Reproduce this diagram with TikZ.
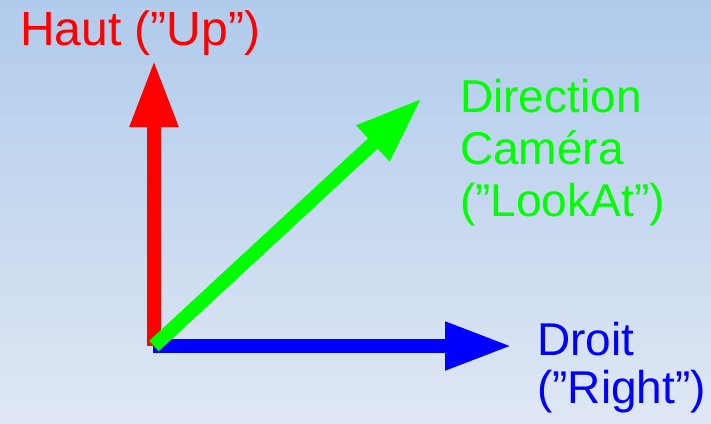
\documentclass[tikz,border=0pt]{standalone}
\usepackage{fontspec}
\setmainfont{Liberation Sans}
\usetikzlibrary{arrows.meta}
\definecolor{bgtop}{RGB}{176,203,236}
\definecolor{bgbottom}{RGB}{223,231,243}
\tikzset{
  vec/.style={line width=14pt, -{Triangle[length=67pt, width=45pt]}},
  klabel/.style={anchor=base west, inner sep=0pt, align=left, font=\fontsize{46}{52}\selectfont},
  kup/.style={vec, red}, kright/.style={vec, blue}, klook/.style={vec, green},
}

\begin{document}
\begin{tikzpicture}[x=1pt, y=-1pt]
    \shade[top color=bgtop, bottom color=bgbottom] (0,0) rectangle (711,423);
    \useasboundingbox (0,0) rectangle (711,423);
    \coordinate (origin) at (154,346);
    \coordinate (up) at (154,60);
    \coordinate (right) at (512,346);
    \coordinate (look) at (422,98);
    \draw[kup] (origin) -- (up);
    \draw[kright] ([xshift=-1pt]origin) -- (right);
    \draw[klook] (origin) -- (look);
    % multi-line labels sit on the baseline of their last line
    \node[klabel, red, font=\fontsize{48}{54}\selectfont] (uplabel) at (20,45) {Haut (”Up”)};
    \node[klabel, green] (looklabel) at (460,216) {Direction\\Caméra\\(”LookAt”)};
    \node[klabel, blue, font=\fontsize{46}{48}\selectfont] (rightlabel) at (537,403) {Droit\\(”Right”)};
  \end{tikzpicture}
\end{document}
